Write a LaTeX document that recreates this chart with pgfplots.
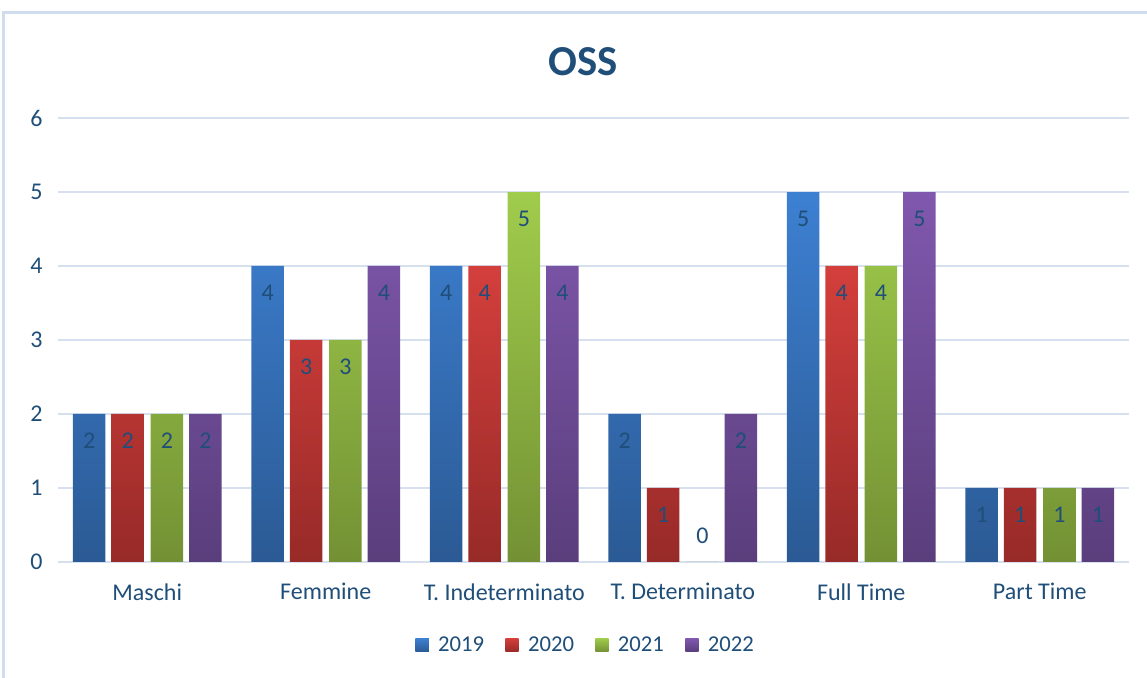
\documentclass[border=0pt]{standalone}
\usepackage{pgfplots}
\pgfplotsset{compat=1.18}
\usepackage{fontspec}
\setmainfont{Carlito}
\definecolor{txt}{HTML}{1F4E79}
\definecolor{gridc}{HTML}{D6E0EE}
\definecolor{framec}{HTML}{D0DDEF}
\definecolor{bA}{HTML}{3D80D2}\definecolor{bB}{HTML}{2B5A94}
\definecolor{rA}{HTML}{D43F3C}\definecolor{rB}{HTML}{972A28}
\definecolor{gA}{HTML}{A0CC4C}\definecolor{gB}{HTML}{739134}
\definecolor{pA}{HTML}{8058AE}\definecolor{pB}{HTML}{5A3E7C}
\pgfplotstableread{
x y19 y20 y21 y22
0 2 2 2 2
1 4 3 3 4
2 4 4 5 4
3 2 1 0 2
4 5 4 4 5
5 1 1 1 1
}\datatable
\begin{document}
\begin{tikzpicture}
\useasboundingbox (-43.5pt,-87pt) rectangle (816.75pt,421.5pt);
\draw[framec, line width=1.6pt] (-40.9pt,-120pt) -- (-40.9pt,412.1pt) -- (900pt,412.1pt);
\begin{axis}[
  at={(0pt,0pt)}, anchor=south west,
  scale only axis, width=803.25pt, height=333pt,
  xmin=-0.5, xmax=5.5, ymin=0, ymax=6,
  axis line style={draw=none},
  major tick length=0pt,
  ymajorgrids=true, xmajorgrids=false,
  major grid style={draw=gridc, line width=1.4pt},
  ytick={0,1,2,3,4,5,6},
  xtick={0,1,2,3,4,5},
  xticklabels={Maschi, Femmine, T. Indeterminato, T. Determinato, Full Time, Part Time},
  /pgf/number format/assume math mode=true,
  tick label style={font=\fontsize{18}{21}\selectfont, text=txt},
  yticklabel style={xshift=-8pt},
  xticklabel style={yshift=-12.5pt},
  title={\bfseries OSS},
  title style={font=\fontsize{32}{36}\selectfont, text=txt, at={(axis description cs:0.49,1.11)}, anchor=center},
  legend columns=4,
  legend style={draw=none, fill=none, font=\fontsize{17}{20}\selectfont, text=txt,
    at={(axis description cs:0.493,-0.187)}, anchor=center,
    /tikz/every odd column/.append style={column sep=5pt},
    /tikz/every even column/.append style={column sep=14pt}},
  legend image code/.code={\path[#1, draw=none] (0pt,-5pt) rectangle (10pt,5pt);},
  bar width=0.183,
  nodes near coords,
  nodes near coords style={font=\fontsize{18}{21}\selectfont, text=txt, anchor=center},
  visualization depends on={y \as \rawy},
  every node near coord/.append style={yshift={(\rawy==0 ? 20 : -20)}},
  clip=false,
]
\addplot[ybar, bar shift=-0.3255, draw=none, top color=bA, bottom color=bB,
  every node near coord/.append style={xshift=-43.58pt}] table[x=x, y=y19] {\datatable};
\addlegendentry{2019}
\addplot[ybar, bar shift=-0.11, draw=none, top color=rA, bottom color=rB,
  every node near coord/.append style={xshift=-14.73pt}] table[x=x, y=y20] {\datatable};
\addlegendentry{2020}
\addplot[ybar, bar shift=0.11, draw=none, top color=gA, bottom color=gB,
  every node near coord/.append style={xshift=14.73pt}] table[x=x, y=y21] {\datatable};
\addlegendentry{2021}
\addplot[ybar, bar shift=0.3255, draw=none, top color=pA, bottom color=pB,
  every node near coord/.append style={xshift=43.58pt}] table[x=x, y=y22] {\datatable};
\addlegendentry{2022}
\end{axis}
\end{tikzpicture}
\end{document}
